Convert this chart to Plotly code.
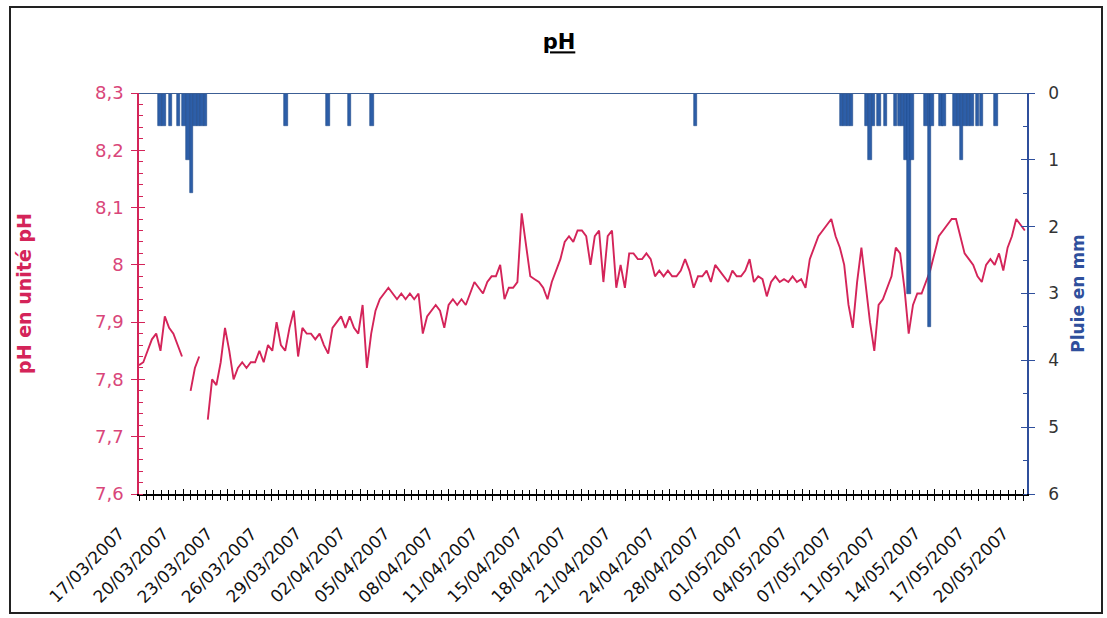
import plotly.graph_objects as go

# pH readings (unité pH), one every sampling step along the category axis; None = missing data
ph = [
    7.825, 7.83, 7.85, 7.87, 7.88, 7.85, 7.91, 7.89, 7.88, 7.86,
    7.84, None, 7.78, 7.82, 7.84, None, 7.73, 7.80, 7.79, 7.83,
    7.89, 7.85, 7.80, 7.82, 7.83, 7.82, 7.83, 7.83, 7.85, 7.83,
    7.86, 7.85, 7.90, 7.86, 7.85, 7.89, 7.92, 7.84, 7.89, 7.88,
    7.88, 7.87, 7.88, 7.86, 7.845, 7.89, 7.90, 7.91, 7.89, 7.91,
    7.89, 7.88, 7.93, 7.82, 7.88, 7.92, 7.94, 7.95, 7.96, 7.95,
    7.94, 7.95, 7.94, 7.95, 7.94, 7.95, 7.88, 7.91, 7.92, 7.93,
    7.92, 7.89, 7.93, 7.94, 7.93, 7.94, 7.93, 7.95, 7.97, 7.96,
    7.95, 7.97, 7.98, 7.98, 8.00, 7.94, 7.96, 7.96, 7.97, 8.09,
    8.03, 7.98, 7.975, 7.97, 7.96, 7.94, 7.97, 7.99, 8.01, 8.04,
    8.05, 8.04, 8.06, 8.06, 8.05, 8.00, 8.05, 8.06, 7.97, 8.05,
    8.06, 7.96, 8.00, 7.96, 8.02, 8.02, 8.01, 8.01, 8.02, 8.01,
    7.98, 7.99, 7.98, 7.99, 7.98, 7.98, 7.99, 8.01, 7.99, 7.96,
    7.98, 7.98, 7.99, 7.97, 8.00, 7.99, 7.98, 7.97, 7.99, 7.98,
    7.98, 7.99, 8.01, 7.97, 7.98, 7.975, 7.945, 7.97, 7.98, 7.97,
    7.975, 7.97, 7.98, 7.97, 7.975, 7.96, 8.01, 8.03, 8.05, 8.06,
    8.07, 8.08, 8.05, 8.03, 8.00, 7.93, 7.89, 7.97, 8.03, 7.96,
    7.90, 7.85, 7.93, 7.94, 7.96, 7.98, 8.03, 8.02, 7.96, 7.88,
    7.93, 7.95, 7.95, 7.97, 7.99, 8.02, 8.05, 8.06, 8.07, 8.08,
    8.08, 8.05, 8.02, 8.01, 8.00, 7.98, 7.97, 8.00, 8.01, 8.00,
    8.02, 7.99, 8.03, 8.05, 8.08, 8.07, 8.06,
]

# Rainfall events: position on the same axis and amount in mm
rain_pos = [
    4.9, 5.8, 7.35, 9.2, 10.5, 11.4, 12.2, 13.0, 13.9, 14.7, 15.4,
    34.2, 44.0, 49.0, 54.2, 129.4,
    163.4, 164.2, 165.0, 165.7, 169.2, 170.0, 170.8, 172.1, 173.6,
    175.9, 176.8, 177.6, 178.4, 179.1, 179.8,
    183.0, 183.8, 184.4, 186.5, 187.2,
    189.8, 190.6, 191.3, 192.1, 192.9, 193.7, 195.0, 195.9, 199.3,
]
rain_mm = [
    0.5, 0.5, 0.5, 0.5, 0.5, 1.0, 1.5, 0.5, 0.5, 0.5, 0.5,
    0.5, 0.5, 0.5, 0.5, 0.5,
    0.5, 0.5, 0.5, 0.5, 0.5, 1.0, 0.5, 0.5, 0.5,
    0.5, 0.5, 0.5, 1.0, 3.0, 1.0,
    0.5, 3.5, 0.5, 0.5, 0.5,
    0.5, 0.5, 1.0, 0.5, 0.5, 0.5, 0.5, 0.5, 0.5,
]

# Date labels, spread evenly along the category axis
date_labels = [
    "17/03/2007", "20/03/2007", "23/03/2007", "26/03/2007", "29/03/2007",
    "02/04/2007", "05/04/2007", "08/04/2007", "11/04/2007", "15/04/2007",
    "18/04/2007", "21/04/2007", "24/04/2007", "28/04/2007", "01/05/2007",
    "04/05/2007", "07/05/2007", "11/05/2007", "14/05/2007", "17/05/2007",
    "20/05/2007",
]
LABEL_STEP = 10.28
label_pos = [LABEL_STEP * k for k in range(len(date_labels))]

PH_COLOR = "#d42459"
PH_TEXT = "#d9467a"
RAIN_COLOR = "#2d5ea8"
RAIN_AXIS = "#2f4f9c"
FONT = "DejaVu Sans, Verdana, sans-serif"

L, R, T, B = 139, 1027, 93, 494
W, H = 1107, 618
X_RANGE = [0, (R - L) / 4.3]
PH_RANGE = [7.6, 8.3]
RAIN_RANGE = [6, 0]


def px_x(v):
    return (v - L) / (R - L)


def px_y(v):
    return (B - v) / (B - T)


fig = go.Figure()

fig.add_trace(go.Bar(
    x=rain_pos, y=rain_mm, width=0.8, yaxis="y2",
    marker=dict(color=RAIN_COLOR, line=dict(color="#1f4a8a", width=0.6)),
    showlegend=False,
))
fig.add_trace(go.Scatter(
    x=list(range(len(ph))), y=ph, mode="lines", connectgaps=False,
    line=dict(color=PH_COLOR, width=1.9), showlegend=False,
))

minor_x = dict(tick0=0, dtick=LABEL_STEP / 6, ticklen=4, tickcolor="black")

fig.update_layout(
    width=W, height=H,
    margin=dict(l=L, r=W - R, t=T, b=H - B),
    paper_bgcolor="white", plot_bgcolor="white",
    separators=", ",
    bargap=0,
    font=dict(family=FONT),
    title=dict(text="<b><u>pH</u></b>", x=px_x(559), xref="paper",
               y=1 - 42 / H, yref="container", xanchor="center", yanchor="middle",
               font=dict(family=FONT, size=21, color="black")),
    xaxis=dict(
        range=X_RANGE, showgrid=False, zeroline=False,
        showline=True, linecolor="black", linewidth=1.5,
        tickmode="array", tickvals=label_pos, showticklabels=False,
        ticks="outside", ticklen=5, tickcolor="black",
        minor=dict(minor_x, ticks="outside"),
    ),
    xaxis2=dict(
        range=X_RANGE, overlaying="x", side="bottom", showgrid=False, zeroline=False,
        showticklabels=False, tickmode="array", tickvals=label_pos,
        ticks="inside", ticklen=5, tickcolor="black",
        minor=dict(minor_x, ticks="inside"),
    ),
    yaxis=dict(
        range=PH_RANGE, showgrid=False, zeroline=False,
        showline=True, linecolor=PH_COLOR, linewidth=1.5,
        tick0=7.6, dtick=0.1, ticks="outside", ticklen=6, tickcolor=PH_COLOR,
        tickfont=dict(family=FONT, size=18, color=PH_TEXT), ticklabelstandoff=4,
        minor=dict(dtick=0.02, ticks="inside", ticklen=4, tickcolor=PH_COLOR),
        title=dict(text="<b>pH en unité pH</b>", standoff=58,
                   font=dict(family=FONT, size=19, color=PH_COLOR)),
    ),
    yaxis3=dict(
        range=PH_RANGE, overlaying="y", side="left", showgrid=False, zeroline=False,
        showticklabels=False, tick0=7.6, dtick=0.1, ticks="inside", ticklen=6,
        tickcolor=PH_COLOR,
    ),
    yaxis2=dict(
        range=RAIN_RANGE, overlaying="y", side="right", showgrid=False, zeroline=False,
        showline=True, linecolor=RAIN_AXIS, linewidth=1.5,
        tick0=0, dtick=1, ticks="outside", ticklen=6, tickcolor=RAIN_AXIS,
        tickfont=dict(family=FONT, size=17, color="#333333"), ticklabelstandoff=10,
        minor=dict(dtick=0.5, ticks="inside", ticklen=4, tickcolor=RAIN_AXIS),
        title=dict(text="<b>Pluie en mm</b>", standoff=14,
                   font=dict(family=FONT, size=17, color=RAIN_AXIS)),
    ),
    yaxis4=dict(
        range=RAIN_RANGE, overlaying="y", side="right", showgrid=False, zeroline=False,
        showticklabels=False, tick0=0, dtick=1, ticks="inside", ticklen=6,
        tickcolor=RAIN_AXIS,
    ),
)

# the overlay axes only draw when a trace refers to them
fig.add_trace(go.Scatter(x=[None], y=[None], xaxis="x2", yaxis="y3", showlegend=False, hoverinfo="skip"))
fig.add_trace(go.Scatter(x=[None], y=[None], xaxis="x", yaxis="y4", showlegend=False, hoverinfo="skip"))

# slanted date labels hanging below the category axis
for pos, text in zip(label_pos, date_labels):
    fig.add_annotation(
        x=pos, xref="x", y=0, yref="paper", text=text, textangle=-45,
        xanchor="right", yanchor="top", xshift=-9, yshift=-28,
        showarrow=False, borderpad=0,
        font=dict(family=FONT, size=17, color="#111111"),
    )

# baseline of the rainfall bars along the top of the plot
fig.add_shape(type="line", xref="paper", yref="y2", x0=0, x1=1, y0=0, y1=0,
              line=dict(color="#3c5f95", width=2))

# outer frame around the whole chart
fig.add_shape(type="rect", xref="paper", yref="paper",
              x0=px_x(10), x1=px_x(1102), y0=px_y(613), y1=px_y(7),
              line=dict(color="#222222", width=2), fillcolor="rgba(0,0,0,0)", layer="below")

fig.write_html("out.html")
